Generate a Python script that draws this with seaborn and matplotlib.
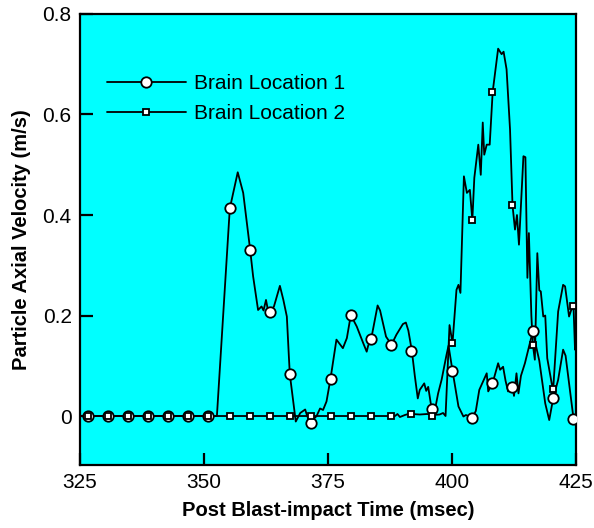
import numpy as np
import pandas as pd
import matplotlib
matplotlib.use('Agg')
import matplotlib.pyplot as plt
from matplotlib.lines import Line2D
import seaborn as sns

# Brain Location 1 - trace
t1 = [325.0, 352.6, 355.2, 356.8, 357.9, 359.3, 359.9, 360.9, 361.6, 362.0,
      362.5, 363.0, 363.3, 364.1, 365.3, 366.0, 366.7, 367.1, 367.3, 368.5,
      369.4, 370.4, 370.8, 371.4, 372.7, 373.4, 374.0, 374.7, 375.5, 376.7,
      378.0, 378.8, 379.6, 380.8, 382.1, 382.8, 383.1, 383.7, 385.0, 385.5,
      386.7, 387.8, 388.8, 390.1, 390.7, 391.2, 391.9, 392.5, 393.1, 393.5,
      394.4, 394.8, 395.2, 395.8, 396.0, 396.4, 397.2, 397.9, 398.9, 399.3,
      400.1, 401.3, 402.3, 402.8, 404.1, 404.8, 405.5, 407.0, 407.3, 408.2,
      409.3, 409.7, 410.3, 410.8, 411.3, 412.2, 412.5, 413.0, 413.4, 413.9,
      414.7, 416.3, 417.1, 417.6, 418.8, 419.6, 420.4, 421.4, 422.4, 422.9,
      424.5]
v1 = [0.0, 0.0, 0.413, 0.485, 0.444, 0.331, 0.278, 0.211, 0.218, 0.210,
      0.231, 0.205, 0.207, 0.218, 0.259, 0.231, 0.198, 0.120, 0.083, -0.011,
      0.006, 0.013, 0.0, -0.013, 0.0, 0.015, 0.012, 0.029, 0.074, 0.152,
      0.135, 0.155, 0.201, 0.178, 0.145, 0.128, 0.140, 0.153, 0.220, 0.210,
      0.158, 0.142, 0.162, 0.183, 0.186, 0.170, 0.130, 0.080, 0.035, 0.052,
      0.065, 0.050, 0.058, 0.020, 0.013, 0.004, 0.045, 0.072, 0.122, 0.140,
      0.090, 0.019, -0.001, 0.002, -0.003, 0.010, 0.052, 0.085, 0.049, 0.066,
      0.105, 0.092, 0.098, 0.070, 0.049, 0.057, 0.040, 0.085, 0.045, 0.080,
      0.105, 0.169, 0.132, 0.110, 0.025, -0.008, 0.035, 0.072, 0.132, 0.120,
      -0.005]

# Brain Location 2 - trace
t2 = [325.0, 388.5, 389.0, 389.5, 390.5, 391.5, 392.0, 393.5, 395.0, 396.0,
      397.5, 398.2, 398.7, 399.5, 400.1, 400.9, 401.3, 401.7, 402.4, 403.0,
      403.6, 404.1, 404.5, 405.3, 405.8, 406.2, 406.5, 407.0, 407.6, 408.2,
      409.3, 410.0, 410.4, 411.0, 411.7, 412.2, 412.7, 413.1, 413.5, 414.4,
      414.8, 415.2, 415.5, 416.0, 416.3, 416.7, 417.2, 417.6, 417.9, 418.4,
      418.8, 419.2, 420.1, 420.4, 421.4, 422.4, 422.8, 423.6, 424.0, 424.5,
      424.8, 425.0]
v2 = [0.0, 0.0, 0.004, -0.002, 0.002, 0.005, 0.004, 0.003, 0.004, 0.002,
      0.003, 0.006, 0.0, 0.181, 0.145, 0.251, 0.261, 0.245, 0.477, 0.444,
      0.450, 0.390, 0.474, 0.540, 0.480, 0.584, 0.520, 0.540, 0.540, 0.645,
      0.731, 0.720, 0.725, 0.690, 0.570, 0.419, 0.371, 0.400, 0.341, 0.517,
      0.515, 0.275, 0.364, 0.200, 0.142, 0.112, 0.324, 0.250, 0.248, 0.198,
      0.200, 0.115, 0.065, 0.053, 0.208, 0.261, 0.258, 0.198, 0.210, 0.218,
      0.132, 0.160]

# marker positions (both series share the same times)
t_mark = [326.6, 330.6, 334.7, 338.7, 342.7, 346.8, 350.8, 355.2, 359.3, 363.3,
          367.3, 371.6, 375.6, 379.6, 383.7, 387.7, 391.7, 396.0, 400.0, 404.0,
          408.1, 412.1, 416.3, 420.4, 424.4]
m1 = [0, 0, 0, 0, 0, 0, 0, 0.413, 0.331, 0.207,
      0.083, -0.013, 0.074, 0.201, 0.153, 0.142, 0.130, 0.013, 0.090, -0.003,
      0.066, 0.057, 0.169, 0.035, -0.005]
m2 = [0, 0, 0, 0, 0, 0, 0, 0, 0, 0,
      0, 0, 0, 0, 0, 0, 0.005, 0.0, 0.145, 0.390,
      0.645, 0.419, 0.142, 0.053, 0.218]

labels = ['Brain Location 1', 'Brain Location 2']

sns.set_style('ticks')
plt.rcParams['font.family'] = ['Liberation Sans', 'DejaVu Sans']
plt.rcParams['text.color'] = 'black'
plt.rcParams['axes.labelcolor'] = 'black'

fig = plt.figure(figsize=(5.94, 5.28), dpi=100)
ax = fig.add_axes([0.1347, 0.1193, 0.8350, 0.8542])
ax.set_facecolor('#00FFFF')

lw = 1.3
sns.lineplot(x=t1, y=v1, ax=ax, color='black', lw=lw, sort=False, estimator=None)
ax.plot(t_mark, m1, ls='none', marker='o', ms=7.5, mfc='white', mec='black', mew=1.3, zorder=3)
sns.lineplot(x=t2, y=v2, ax=ax, color='black', lw=lw, sort=False, estimator=None)
ax.plot(t_mark, m2, ls='none', marker='s', ms=5, mfc='white', mec='black', mew=1.3, zorder=4)

ax.set_xlim(325, 425)
ax.set_ylim(-0.0975, 0.8)
ax.set_xticks([325, 350, 375, 400, 425])
ax.set_yticks([0, 0.2, 0.4, 0.6, 0.8])
ax.set_yticklabels(['0', '0.2', '0.4', '0.6', '0.8'])

for s in ax.spines.values():
    s.set_visible(True)
    s.set_linewidth(1.6)
    s.set_color('black')
ax.tick_params(direction='in', length=9, width=1.6, labelsize=15, pad=6, colors='black')

ax.set_xlabel('Post Blast-impact Time (msec)', fontsize=14.5, fontweight='bold', labelpad=6)
ax.set_ylabel('Particle Axial Velocity (m/s)', fontsize=14.5, fontweight='bold', labelpad=8)

handles = [Line2D([], [], color='black', lw=lw, marker='o', ms=7.5, mfc='white', mec='black', mew=1.3),
           Line2D([], [], color='black', lw=lw, marker='s', ms=5, mfc='white', mec='black', mew=1.3)]
ax.legend(handles, labels, loc='upper left', bbox_to_anchor=(0.054, 0.866), frameon=False,
          fontsize=15, handlelength=3.8, handletextpad=0.4, labelspacing=0.5,
          borderpad=0, borderaxespad=0)

plt.savefig('out.png', dpi=100)
plt.close()
